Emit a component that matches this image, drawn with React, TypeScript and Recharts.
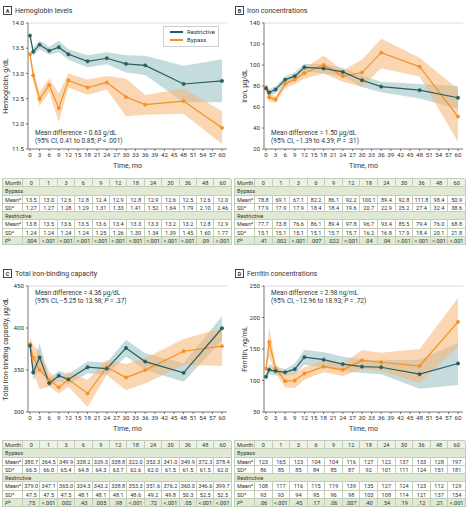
import React from "react";
import { ComposedChart, Area, Line, XAxis, YAxis, ReferenceLine, Legend, Label } from "recharts";

const MONTHS = [0, 1, 3, 6, 9, 12, 18, 24, 30, 36, 48, 60];
const X_TICKS = [0, 3, 6, 9, 12, 15, 18, 21, 24, 27, 30, 33, 36, 39, 42, 45, 48, 51, 54, 57, 60];

// A - hemoglobin (plotted values and 95% CI bands)
const HB_R = [13.75, 13.43, 13.57, 13.45, 13.52, 13.38, 13.24, 13.3, 13.19, 13.16, 12.79, 12.85];
const HB_R_LO = [13.7, 13.35, 13.48, 13.37, 13.42, 13.27, 13.12, 13.18, 13.02, 12.97, 12.43, 12.43];
const HB_R_HI = [13.8, 13.52, 13.65, 13.53, 13.65, 13.48, 13.36, 13.42, 13.36, 13.35, 13.15, 13.28];
const HB_B = [13.38, 12.96, 12.49, 12.77, 12.31, 12.86, 12.72, 12.82, 12.53, 12.38, 12.45, 11.92];
const HB_B_LO = [13.3, 12.85, 12.35, 12.63, 12.03, 12.72, 12.57, 12.68, 12.15, 12.18, 12.2, 11.6];
const HB_B_HI = [13.45, 13.08, 12.62, 12.9, 12.6, 13.0, 12.88, 12.95, 12.9, 12.57, 12.7, 12.25];

// B - iron
const FE_R = [77.7, 73.8, 76.6, 86.1, 89.4, 97.8, 96.7, 93.4, 85.5, 79.4, 76.0, 68.8];
const FE_R_LO = [75, 70, 73, 83, 86, 94, 92, 89, 79, 74, 68, 58];
const FE_R_HI = [80, 77, 80, 89, 93, 101, 101, 97, 90, 84, 82, 80];
const FE_B = [78.8, 69.1, 67.1, 82.2, 86.1, 92.2, 100.1, 89.4, 92.8, 111.8, 98.4, 50.9];
const FE_B_LO = [76, 65, 64, 78, 82, 87, 92, 84, 79, 97, 89, 27];
const FE_B_HI = [82, 73, 70, 86, 90, 97, 109, 95, 105, 125, 107, 77];

// C - total iron-binding capacity
const TIBC_R = [379.0, 347.1, 365.0, 334.3, 343.2, 338.8, 353.3, 351.6, 376.2, 360.0, 346.6, 399.7];
const TIBC_R_LO = [373, 338, 352, 330, 337, 333, 346, 344, 366, 350, 336, 385];
const TIBC_R_HI = [385, 356, 382, 340, 349, 345, 360, 359, 386, 370, 358, 414];
const TIBC_B = [380.7, 364.5, 349.9, 338.2, 329.3, 338.8, 322.0, 353.3, 341.0, 349.9, 372.3, 378.4];
const TIBC_B_LO = [374, 347, 327, 330, 322, 330, 306, 344, 326, 334, 356, 355];
const TIBC_B_HI = [388, 380, 372, 348, 337, 348, 338, 362, 357, 364, 387, 400];

// D - ferritin
const FER_R = [106, 117, 115, 113, 118, 137, 133, 126, 122, 121, 110, 127];
const FER_R_LO = [100, 110, 108, 108, 110, 125, 121, 115, 112, 110, 87, 93];
const FER_R_HI = [112, 126, 122, 118, 127, 149, 145, 138, 133, 132, 133, 160];
const FER_B = [119, 161, 119, 99, 100, 111, 122, 117, 132, 129, 123, 193];
const FER_B_LO = [113, 137, 112, 89, 88, 101, 113, 107, 118, 115, 96, 153];
const FER_B_HI = [125, 185, 126, 110, 112, 121, 132, 127, 148, 144, 150, 231];

// table values
const HB_TAB = {
  bMean: ["13.5", "13.0", "12.6", "12.8", "12.4", "12.9", "12.8", "12.9", "12.6", "12.5", "12.6", "12.0"],
  bSd: ["1.27", "1.27", "1.28", "1.29", "1.31", "1.33", "1.41", "1.52", "1.64", "1.79", "2.10", "2.46"],
  rMean: ["13.8", "13.5", "13.6", "13.5", "13.6", "13.4", "13.3", "13.3", "13.2", "13.2", "12.8", "12.9"],
  rSd: ["1.24", "1.24", "1.24", "1.24", "1.25", "1.26", "1.30", "1.34", "1.39", "1.45", "1.60", "1.77"],
  p: [".004", "<.001", "<.001", "<.001", "<.001", "<.001", "<.001", "<.001", "<.001", "<.001", ".09", "<.001"],
};
const FE_TAB = {
  bMean: ["78.8", "69.1", "67.1", "82.2", "86.1", "92.2", "100.1", "89.4", "92.8", "111.8", "98.4", "50.9"],
  bSd: ["17.9", "17.9", "17.9", "18.4", "18.4", "19.6", "20.7", "22.9", "25.2", "27.4", "32.4", "38.6"],
  rMean: ["77.7", "73.8", "76.6", "86.1", "89.4", "97.8", "96.7", "93.4", "85.5", "79.4", "76.0", "68.8"],
  rSd: ["15.1", "15.1", "15.1", "15.1", "15.7", "15.7", "16.2", "16.8", "17.9", "18.4", "20.1", "21.8"],
  p: [".41", ".002", "<.001", ".007", ".022", "<.001", ".04", ".04", "<.001", "<.001", "<.001", "<.001"],
};
const TIBC_TAB = {
  bMean: ["380.7", "364.5", "349.9", "338.2", "329.3", "338.8", "322.0", "353.3", "341.0", "349.9", "372.3", "378.4"],
  bSd: ["66.5", "66.0", "65.4", "64.8", "64.3", "63.7", "62.6", "62.0", "61.5", "61.5", "61.5", "62.0"],
  rMean: ["379.0", "347.1", "365.0", "334.3", "343.2", "338.8", "353.3", "351.6", "376.2", "360.0", "346.6", "399.7"],
  rSd: ["47.5", "47.5", "47.5", "48.1", "48.1", "48.1", "48.6", "49.2", "49.8", "50.3", "52.5", "52.5"],
  p: [".75", "<.001", ".002", ".43", ".005", ".98", "<.001", ".72", "<.001", ".05", "<.001", "<.001"],
};
const FER_TAB = {
  bMean: ["123", "165", "123", "104", "104", "116", "127", "122", "137", "133", "128", "197"],
  bSd: ["86", "85", "85", "84", "85", "87", "92", "101", "111", "124", "151", "181"],
  rMean: ["108", "117", "116", "115", "119", "139", "135", "127", "124", "123", "112", "129"],
  rSd: ["93", "93", "94", "95", "96", "98", "103", "108", "114", "121", "137", "154"],
  p: [".06", "<.001", ".45", ".17", ".06", ".007", ".40", ".54", ".19", ".12", ".21", "<.001"],
};

const TEAL = "#2b5d5f";
const TEAL_BAND = "#9fc4c5";
const ORANGE = "#f7901e";
const ORANGE_BAND = "#f6b474";
const FONT = "Roboto, 'Noto Sans', sans-serif";
const TXT = "#333";

const makeRows = (r: number[], rLo: number[], rHi: number[], b: number[], bLo: number[], bHi: number[]) =>
  MONTHS.map((m, i) => ({
    month: m,
    restrictive: r[i],
    rBand: [rLo[i], rHi[i]],
    bypass: b[i],
    bBand: [bLo[i], bHi[i]],
  }));

const LegendBox = () => (
  <div style={{ border: "1px solid #cfcfcf", background: "#fff", width: 48, height: 18, padding: "1px 0 0 6px", fontSize: 6, color: TXT, fontFamily: FONT, lineHeight: "8px", boxSizing: "content-box", textAlign: "left" }}>
    <div style={{ display: "flex", alignItems: "center" }}>
      <span style={{ width: 13, height: 1.2, background: TEAL, marginRight: 4, display: "inline-block" }} />
      Restrictive
    </div>
    <div style={{ display: "flex", alignItems: "center" }}>
      <span style={{ width: 13, height: 1.2, background: ORANGE, marginRight: 4, display: "inline-block" }} />
      Bypass
    </div>
  </div>
);

interface ChartProps {
  rows: any[];
  width: number;
  yAxisW: number;
  marginRight: number;
  domain: [number, number];
  ticks: number[];
  fmt?: (v: number) => string;
  yLabel: string;
  yLabelX: number;
  legend?: boolean;
}

function TrendChart({ rows, width, yAxisW, marginRight, domain, ticks, fmt, yLabel, yLabelX, legend }: ChartProps) {
  const tick = { fontSize: 6.2, fill: TXT, fontFamily: FONT };
  return (
    <ComposedChart width={width} height={172} data={rows} margin={{ top: 23, right: marginRight, left: 0, bottom: 0 }}>
      <ReferenceLine y={domain[1]} stroke="#d6d6d6" strokeWidth={0.8} />
      <XAxis
        dataKey="month"
        type="number"
        domain={[0, 60]}
        ticks={X_TICKS}
        interval={0}
        padding={{ left: 2, right: 5 }}
        height={23}
        tick={tick}
        tickSize={2}
        stroke="#555"
        strokeWidth={0.8}
      >
        <Label value="Time, mo" position="insideBottom" offset={4} style={{ fontSize: 7, fill: TXT, fontFamily: FONT }} />
      </XAxis>
      <YAxis
        type="number"
        domain={domain}
        ticks={ticks}
        width={yAxisW}
        tick={tick}
        tickSize={2}
        tickFormatter={fmt}
        stroke="#555"
        strokeWidth={0.8}
        allowDataOverflow
      >
        <Label
          content={(p: any) => {
            const vb = p.viewBox || { x: 0, y: 23, height: 126 };
            const cx = vb.x + yLabelX;
            const cy = vb.y + vb.height / 2;
            return (
              <text x={cx} y={cy} transform={`rotate(-90 ${cx} ${cy})`} textAnchor="middle" dominantBaseline="central" fontSize={7} fill={TXT} fontFamily={FONT}>
                {yLabel}
              </text>
            );
          }}
        />
      </YAxis>
      <Area dataKey="rBand" type="linear" stroke="none" fill={TEAL_BAND} fillOpacity={0.6} isAnimationActive={false} legendType="none" />
      <Area dataKey="bBand" type="linear" stroke="none" fill={ORANGE_BAND} fillOpacity={0.55} isAnimationActive={false} legendType="none" />
      <Line dataKey="bypass" type="linear" stroke={ORANGE} strokeWidth={1.2} dot={{ r: 1.7, fill: ORANGE, stroke: ORANGE, strokeWidth: 0.5 }} isAnimationActive={false} />
      <Line dataKey="restrictive" type="linear" stroke={TEAL} strokeWidth={1.2} dot={{ r: 1.7, fill: TEAL, stroke: TEAL, strokeWidth: 0.5 }} isAnimationActive={false} />
      {legend && (
        <Legend
          layout="horizontal"
          verticalAlign="middle"
          align="center"
          content={() => <LegendBox />}
          wrapperStyle={{ position: "absolute", left: 163, top: 26, width: "auto" }}
        />
      )}
    </ComposedChart>
  );
}

const GREEN = "#dfe9d3";
const PALE = "#edf2e6";
const BORDER = "#c2ceb8";
const ROW_H = 8.3;
const LABEL_W = 20;

function DataTable({ tab, left, top, width }: { tab: any; left: number; top: number; width: number }) {
  const cellW = (width - LABEL_W) / 12;
  const base: React.CSSProperties = {
    boxSizing: "border-box",
    height: ROW_H,
    lineHeight: `${ROW_H}px`,
    borderRight: `0.6px solid ${BORDER}`,
    whiteSpace: "nowrap",
    overflow: "hidden",
    flex: "none",
  };
  const sup = (s: string) => <sup style={{ fontSize: 3.8, verticalAlign: "top", lineHeight: "5px" }}>{s}</sup>;
  const rowStyle = (bg: string): React.CSSProperties => ({
    display: "flex",
    height: ROW_H,
    background: bg,
    borderBottom: `0.6px solid ${BORDER}`,
    boxSizing: "border-box",
  });
  const dataRow = (label: React.ReactNode, vals: string[], bg: string) => (
    <div style={rowStyle(bg)}>
      <div style={{ ...base, width: LABEL_W, paddingLeft: 2 }}>{label}</div>
      {vals.map((v, i) => (
        <div key={i} style={{ ...base, width: cellW, textAlign: "center" }}>{v}</div>
      ))}
    </div>
  );
  const groupRow = (label: string) => (
    <div style={rowStyle(GREEN)}>
      <div style={{ ...base, width, paddingLeft: 2 }}>{label}</div>
    </div>
  );
  return (
    <div
      style={{ position: "absolute", left, top, width, fontSize: 5.6, color: TXT, fontFamily: FONT, borderTop: `0.6px solid ${BORDER}`, borderLeft: `0.6px solid ${BORDER}`, boxSizing: "border-box" }}
    >
      {dataRow("Month", MONTHS.map(String), PALE)}
      {groupRow("Bypass")}
      {dataRow(<>Mean{sup("a")}</>, tab.bMean, "#fff")}
      {dataRow(<>SD{sup("a")}</>, tab.bSd, "#fff")}
      {groupRow("Restrictive")}
      {dataRow(<>Mean{sup("a")}</>, tab.rMean, "#fff")}
      {dataRow(<>SD{sup("a")}</>, tab.rSd, "#fff")}
      {dataRow(<><i>P</i>{sup("b")}</>, tab.p, GREEN)}
    </div>
  );
}

const Title = ({ left, top, letter, text }: { left: number; top: number; letter: string; text: string }) => (
  <div style={{ position: "absolute", left, top, display: "flex", alignItems: "center", fontFamily: FONT, fontSize: 7, color: TXT }}>
    <span style={{ border: "0.8px solid #444", width: 7, height: 7, fontSize: 5.5, fontWeight: 700, display: "inline-flex", alignItems: "center", justifyContent: "center", marginRight: 3 }}>{letter}</span>
    {text}
  </div>
);

const Note = ({ left, top, lines }: { left: number; top: number; lines: React.ReactNode[] }) => (
  <div style={{ position: "absolute", left, top, fontFamily: FONT, fontSize: 6.5, color: TXT, lineHeight: "7.5px", whiteSpace: "nowrap" }}>
    {lines.map((l, i) => (
      <div key={i}>{l}</div>
    ))}
  </div>
);

export default function App() {
  const hbRows = makeRows(HB_R, HB_R_LO, HB_R_HI, HB_B, HB_B_LO, HB_B_HI);
  const feRows = makeRows(FE_R, FE_R_LO, FE_R_HI, FE_B, FE_B_LO, FE_B_HI);
  const tibcRows = makeRows(TIBC_R, TIBC_R_LO, TIBC_R_HI, TIBC_B, TIBC_B_LO, TIBC_B_HI);
  const ferRows = makeRows(FER_R, FER_R_LO, FER_R_HI, FER_B, FER_B_LO, FER_B_HI);

  return (
    <div style={{ position: "absolute", left: 0, top: 0, width: 467, height: 522, background: "#fff", overflow: "hidden" }}>
      <Title left={3} top={6} letter="A" text="Hemoglobin levels" />
      <Title left={235} top={6} letter="B" text="Iron concentrations" />
      <Title left={3} top={269} letter="C" text="Total iron-binding capacity" />
      <Title left={235} top={269} letter="D" text="Ferritin concentrations" />

      <div style={{ position: "absolute", left: 0, top: 0 }}>
        <TrendChart rows={hbRows} width={232} yAxisW={28} marginRight={5} domain={[11.5, 14]} ticks={[11.5, 12, 12.5, 13, 13.5, 14]} fmt={(v) => v.toFixed(1)} yLabel="Hemoglobin, g/dL" yLabelX={6} legend />
      </div>
      <div style={{ position: "absolute", left: 232, top: 0 }}>
        <TrendChart rows={feRows} width={235} yAxisW={32} marginRight={4} domain={[20, 140]} ticks={[20, 40, 60, 80, 100, 120, 140]} yLabel="Iron, μg/dL" yLabelX={13} />
      </div>
      <div style={{ position: "absolute", left: 0, top: 263 }}>
        <TrendChart rows={tibcRows} width={232} yAxisW={28} marginRight={5} domain={[300, 450]} ticks={[300, 350, 400, 450]} yLabel="Total iron-binding capacity, μg/dL" yLabelX={6} />
      </div>
      <div style={{ position: "absolute", left: 232, top: 263 }}>
        <TrendChart rows={ferRows} width={235} yAxisW={32} marginRight={4} domain={[50, 250]} ticks={[50, 100, 150, 200, 250]} yLabel="Ferritin, ng/mL" yLabelX={13} />
      </div>

      <Note left={35} top={130} lines={["Mean difference = 0.63 g/dL", <>(95% CI, 0.41 to 0.85; <i>P</i> &lt; .001)</>]} />
      <Note left={271} top={130} lines={["Mean difference = 1.50 μg/dL", <>(95% CI, −1.39 to 4.39; <i>P</i> = .31)</>]} />
      <Note left={35} top={290} lines={["Mean difference = 4.36 μg/dL", <>(95% CI, −5.25 to 13.98; <i>P</i> = .37)</>]} />
      <Note left={271} top={290} lines={["Mean difference = 2.98 ng/mL", <>(95% CI, −12.96 to 18.93; <i>P</i> = .72)</>]} />

      <DataTable tab={HB_TAB} left={2} top={178} width={229} />
      <DataTable tab={FE_TAB} left={234} top={178} width={231} />
      <DataTable tab={TIBC_TAB} left={2} top={440} width={229} />
      <DataTable tab={FER_TAB} left={234} top={440} width={231} />
    </div>
  );
}
